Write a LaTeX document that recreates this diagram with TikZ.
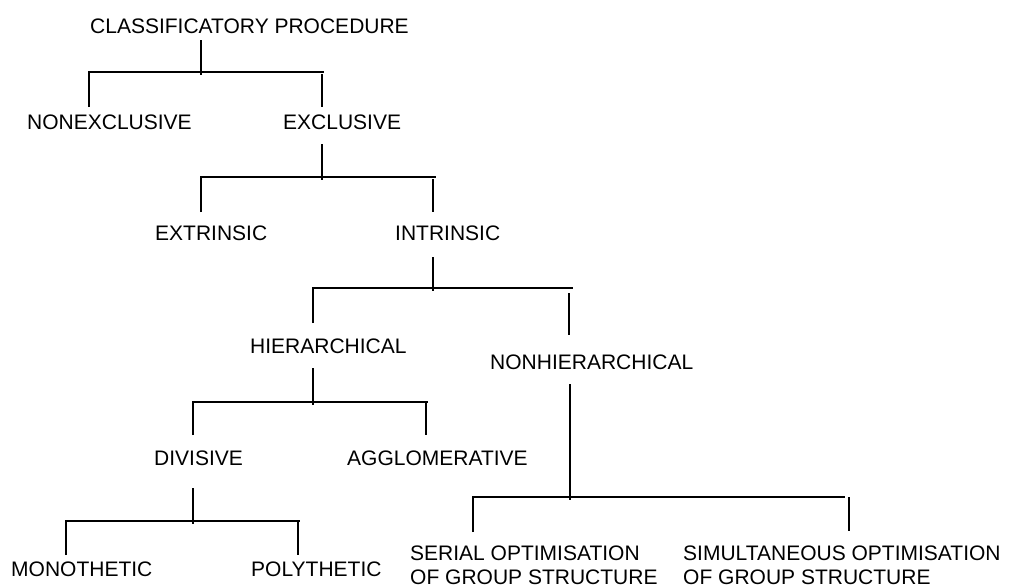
\documentclass[tikz,border=0pt]{standalone}
\usepackage{fontspec}
\setmainfont{Liberation Sans}
\begin{document}
\begin{tikzpicture}[x=1pt,y=-1pt,
  term/.style={inner sep=0pt, anchor=west, font=\fontsize{21}{24}\selectfont},
  twoline/.style={term, anchor=north west, align=left},
  link/.style={line width=2.4pt, line join=miter}]
\useasboundingbox (0,0) rectangle (1010,587);

% ---- terms ----
\node[term] (proc)   at (90,26)   {CLASSIFICATORY PROCEDURE};
\node[term] (nonex)  at (27,122)  {NONEXCLUSIVE};
\node[term] (excl)   at (283,122) {EXCLUSIVE};
\node[term] (extr)   at (155,233) {EXTRINSIC};
\node[term] (intr)   at (395,233) {INTRINSIC};
\node[term] (hier)   at (250,346) {HIERARCHICAL};
\node[term] (nonhier) at (490,362) {NONHIERARCHICAL};
\node[term] (divis)  at (154,458) {DIVISIVE};
\node[term] (aggl)   at (347,458) {AGGLOMERATIVE};
\node[term] (mono)   at (11,569)  {MONOTHETIC};
\node[term] (poly)   at (251,569) {POLYTHETIC};
\node[twoline] (serial) at (410,546) {SERIAL OPTIMISATION\\OF GROUP STRUCTURE};
\node[twoline] (simul)  at (683,546) {SIMULTANEOUS OPTIMISATION\\OF GROUP STRUCTURE};

% ---- fork points: stem top, junction, left foot, right foot, bar end ----
\coordinate (s1) at (201,40);  \coordinate (j1) at (201,72);
\coordinate (l1) at (89,107);  \coordinate (r1) at (322,107);  \coordinate (e1) at (324,72);

\coordinate (s2) at (322,144); \coordinate (j2) at (322,177);
\coordinate (l2) at (201,212); \coordinate (r2) at (433,212);  \coordinate (e2) at (436,177);

\coordinate (s3) at (433,257); \coordinate (j3) at (433,288);
\coordinate (l3) at (313,323); \coordinate (r3) at (569,335);  \coordinate (e3) at (573,288);

\coordinate (s4) at (313,368); \coordinate (j4) at (313,402);
\coordinate (l4) at (193,435); \coordinate (r4) at (426,435);  \coordinate (e4) at (428,402);

\coordinate (s5) at (193,488); \coordinate (j5) at (193,521);
\coordinate (l5) at (66,555);  \coordinate (r5) at (298,555);  \coordinate (e5) at (300,521);

\coordinate (s6) at (570,384); \coordinate (j6) at (570,497);
\coordinate (l6) at (473,532); \coordinate (r6) at (849,531);  \coordinate (e6) at (845,497);

% ---- connectors ----
\foreach \k/\gap in {1/2,2/2,3/5,4/1,5/1,6/0}{
  \draw[link] (s\k) -- ([yshift=-2.5pt]j\k);
  \draw[link] (l\k) |- (e\k);
  \draw[link] ([yshift=-\gap pt]r\k |- e\k) -- (r\k);
}
\end{tikzpicture}
\end{document}
